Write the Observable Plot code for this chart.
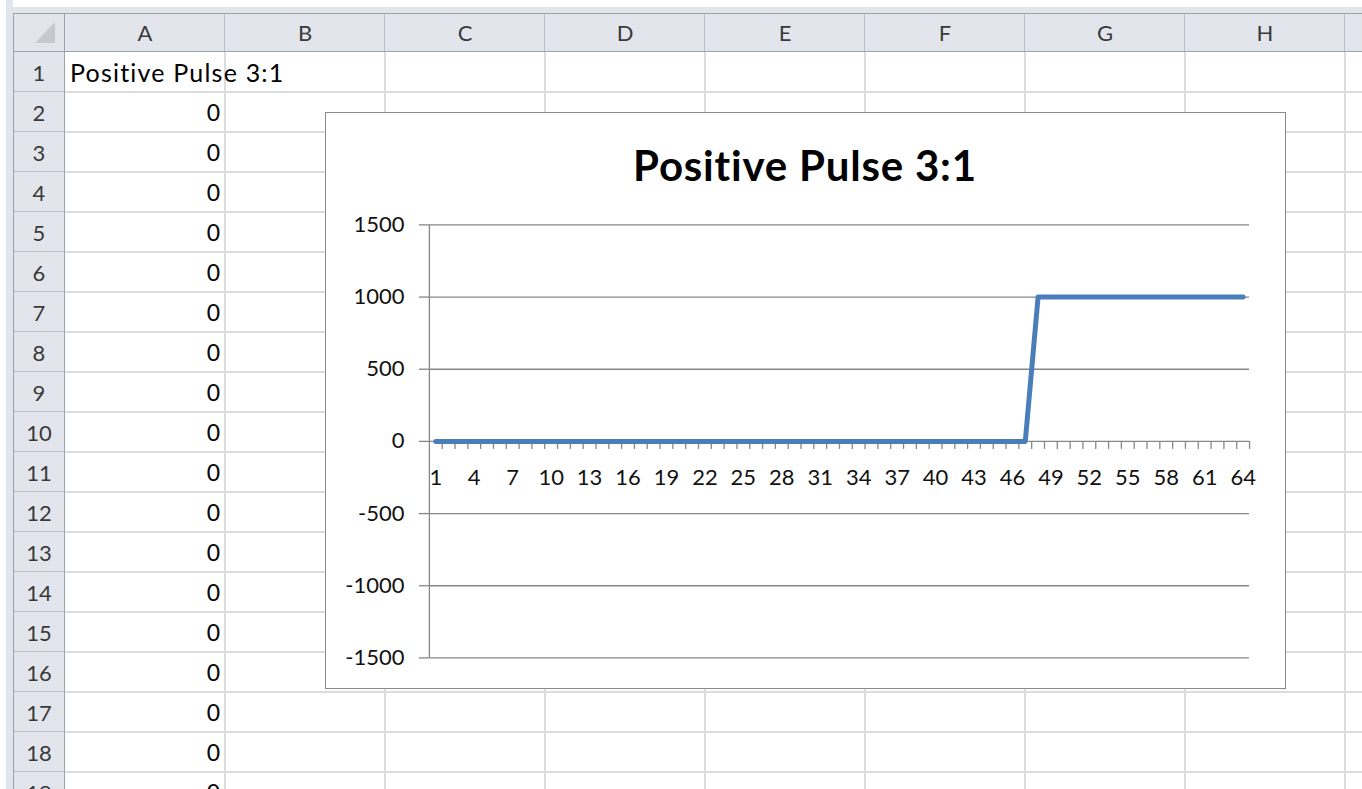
<!DOCTYPE html>
<html><head><meta charset="utf-8">
<script src="https://cdn.jsdelivr.net/npm/d3@7"></script>
<script src="https://cdn.jsdelivr.net/npm/@observablehq/plot@0.6"></script>
<style>
html,body{margin:0;padding:0;width:1362px;height:789px;overflow:hidden;background:#fff;font-family:Lato,"Noto Sans",sans-serif;}
.abs{position:absolute;box-sizing:border-box;}
.hdr{background:#e2e6ec;color:#3a3a3a;font-size:22px;display:flex;align-items:center;justify-content:center;}
.cell{font-size:23px;color:#000;display:flex;align-items:center;white-space:nowrap;}
#chartbox{position:absolute;left:325px;top:112px;width:961px;height:577px;box-sizing:border-box;border:1px solid #8a8a8a;background:#fff;}
#chartbox svg{position:absolute;left:-1px;top:-1px;}
#title{position:absolute;left:-1px;width:960px;text-align:center;font-weight:700;font-size:42px;line-height:42px;letter-spacing:0.8px;color:#000;}
</style></head><body>
<div id="sheet"></div>
<div id="chartbox"><div id="title"></div></div>
<script>
// ---- data ----
const sheetTitle = "Positive Pulse 3:1";
const categories = [1,2,3,4,5,6,7,8,9,10,11,12,13,14,15,16,17,18,19,20,21,22,23,24,25,26,27,28,29,30,31,32,
  33,34,35,36,37,38,39,40,41,42,43,44,45,46,47,48,49,50,51,52,53,54,55,56,57,58,59,60,61,62,63,64];
const values = [0,0,0,0,0,0,0,0,0,0,0,0,0,0,0,0,0,0,0,0,0,0,0,0,0,0,0,0,0,0,0,0,
  0,0,0,0,0,0,0,0,0,0,0,0,0,0,0,1000,1000,1000,1000,1000,1000,1000,1000,1000,1000,1000,1000,1000,1000,1000,1000,1000];
const xTickLabels = [1,4,7,10,13,16,19,22,25,28,31,34,37,40,43,46,49,52,55,58,61,64];
const yTicks = [-1500,-1000,-500,0,500,1000,1500];
const columnLetters = ["A","B","C","D","E","F","G","H",""];
const rowNumbers = [1,2,3,4,5,6,7,8,9,10,11,12,13,14,15,16,17,18,19];

// ---- spreadsheet ----
const sheet = document.getElementById("sheet");
function box(x, y, w, h, cls, style, text) {
  const d = document.createElement("div");
  d.className = "abs " + (cls || "");
  Object.assign(d.style, {left: x + "px", top: y + "px", width: w + "px", height: h + "px"}, style || {});
  if (text !== undefined) d.textContent = text;
  sheet.appendChild(d);
  return d;
}
const colX = [65,225,385,545,705,865,1025,1185,1345,1505];
const headTop = 13, headBottom = 52, rowH = 40, rowHeadLeft = 13;
const gridColor = "#dadcde", hdrLine = "#b7bec7", hdrEdge = "#9aa2ac";
// outer strips
box(0, 0, 1362, 13, "", {background: "linear-gradient(#fff 0 7px,#e1e6ec 7px)"});
box(0, 0, 13, 789, "", {background: "linear-gradient(90deg,#fff 0 6px,#e1e6ec 6px)"});
// cell grid lines
for (let i = 1; i < colX.length; i++) box(colX[i] - 1, headBottom, 2, 789, "", {background: gridColor, width: "1.5px"});
for (let r = 0; r <= rowNumbers.length; r++) box(rowHeadLeft, headBottom + (r + 1) * rowH - 1, 1362, 2, "", {background: gridColor, height: "1.5px"});
// column headers
box(rowHeadLeft, headTop, 1362, headBottom - headTop, "hdr");
for (let i = 0; i < columnLetters.length; i++) {
  box(colX[i], headTop, colX[i + 1] - colX[i], headBottom - headTop, "hdr", {}, columnLetters[i]);
  box(colX[i + 1] - 1, headTop, 1, headBottom - headTop, "", {background: hdrLine});
}
// corner
box(rowHeadLeft, headTop, colX[0] - rowHeadLeft, headBottom - headTop, "hdr");
box(35, 22, 0, 0, "", {borderLeft: "20px solid transparent", borderBottom: "21px solid #c4c9d0"});
// row headers
rowNumbers.forEach((r, i) => {
  const y = headBottom + i * rowH;
  box(rowHeadLeft, y, colX[0] - rowHeadLeft, rowH, "hdr", {}, String(r));
  box(rowHeadLeft, y + rowH - 1, colX[0] - rowHeadLeft, 1, "", {background: hdrLine});
});
box(colX[0] - 1, headTop, 1, 789, "", {background: hdrEdge});
box(rowHeadLeft, headBottom - 1, 1362, 1, "", {background: hdrEdge});
box(rowHeadLeft, headTop, 1362, 1, "", {background: hdrEdge});
box(rowHeadLeft, headTop, 1, 789, "", {background: hdrEdge});
// cells
box(colX[0] + 5, headBottom, 400, rowH, "cell", {fontSize: "25px", letterSpacing: "1.2px"}, sheetTitle);
for (let i = 1; i < rowNumbers.length; i++) {
  box(colX[0], headBottom + i * rowH, colX[1] - colX[0] - 5, rowH, "cell", {justifyContent: "flex-end"}, String(values[i - 1]));
}

// ---- chart ----
document.getElementById("title").textContent = sheetTitle;
document.getElementById("title").style.top = "31px";
const data = categories.map((c, i) => ({x: c, y: values[i]}));
const boundaries = categories.map(c => c + 0.5);
const axisGrey = "#878787";
const plot = Plot.plot({
  width: 960, height: 576,
  marginLeft: 104, marginRight: 35, marginTop: 112.5, marginBottom: 30,
  x: {domain: [0.5, 64.5], axis: null},
  y: {domain: [-1500, 1500], axis: null},
  style: {fontFamily: "Lato, 'Noto Sans', sans-serif", fontSize: "22px", background: "transparent", color: "#111"},
  marks: [
    Plot.ruleY(yTicks, {stroke: axisGrey, strokeWidth: 1.3}),
    Plot.ruleX([0.5], {y1: -1500, y2: 1500, stroke: axisGrey, strokeWidth: 1.3}),
    Plot.axisY({ticks: yTicks, tickSize: 10, tickPadding: 15, tickFormat: d => String(d), label: null, stroke: axisGrey, strokeWidth: 1.3, fill: "#111", fontSize: 22}),
    Plot.ruleX(boundaries, {y1: 0, y2: 0, insetBottom: -8, stroke: axisGrey, strokeWidth: 1.3}),
    Plot.text(xTickLabels, {x: d => d, y: 0, dy: 37, text: d => String(d), fill: "#111", fontSize: 22}),
    Plot.line(data, {x: "x", y: "y", stroke: "#4a7ebb", strokeWidth: 5, strokeLinecap: "round", strokeLinejoin: "round"})
  ]
});
document.getElementById("chartbox").appendChild(plot);
</script>
</body></html>
